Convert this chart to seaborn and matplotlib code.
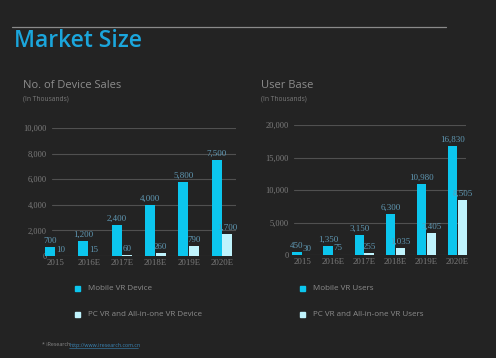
import matplotlib
matplotlib.use("Agg")
import matplotlib.pyplot as plt
import seaborn as sns
import pandas as pd

years = ["2015", "2016E", "2017E", "2018E", "2019E", "2020E"]
device_mobile = [700, 1200, 2400, 4000, 5800, 7500]
device_pc = [10, 15, 60, 260, 790, 1700]
users_mobile = [450, 1350, 3150, 6300, 10980, 16830]
users_pc = [30, 75, 255, 1035, 3405, 8505]
device_ticks = [0, 2000, 4000, 6000, 8000, 10000]
user_ticks = [0, 5000, 10000, 15000, 20000]

BG = "#232323"
BLUE = "#0cc6ee"
LIGHT = "#bff3fc"
GRID = "#505050"
TICK = "#7c7c7c"
LABEL = "#5f97b2"
TXT = "#8c8c8c"

sns.set_theme(style="dark")
plt.rcParams["font.family"] = ["Open Sans", "DejaVu Sans"]

fig = plt.figure(figsize=(4.96, 3.58), dpi=100, facecolor=BG)

def px(x, y):
    return x / 496, 1 - y / 358

# header
fig.add_artist(plt.Line2D([12 / 496, 446 / 496], [1 - 27 / 358] * 2, color="#8a8a8a", lw=0.9))
fig.text(*px(14, 47), "Market Size", color="#1ba6dc", fontsize=16.5, fontweight="semibold",
         va="baseline", ha="left")


def panel(rect, mobile, pc, ticks, title, tx, leg_labels, lx, xlim):
    df = pd.DataFrame({
        "year": years * 2,
        "value": mobile + pc,
        "series": [leg_labels[0]] * len(years) + [leg_labels[1]] * len(years),
    })
    ax = fig.add_axes(rect)
    ax.set_facecolor(BG)
    sns.barplot(data=df, x="year", y="value", hue="series", palette=[BLUE, LIGHT],
                width=0.64, gap=0.04, ax=ax, legend=False, saturation=1,
                linewidth=0, edgecolor="none")
    for p in ax.patches:
        p.set_clip_on(False)
    for c in ax.containers:
        for t in ax.bar_label(c, labels=[f"{v:,.0f}" for v in c.datavalues], padding=1.5,
                              color=LABEL, fontsize=6.5, family="Liberation Serif"):
            t.set_clip_on(False)
            t.set_annotation_clip(False)
    ax.set_xlim(*xlim)
    ax.set_ylim(0, ticks[-1])
    ax.set_yticks(ticks)
    ax.set_yticklabels([f"{t:,}" for t in ticks], family="Liberation Serif", color=TICK, fontsize=6)
    ax.set_xticks(range(len(years)))
    ax.set_xticklabels(years, family="Liberation Serif", color=TICK, fontsize=6.3)
    ax.tick_params(axis="y", length=0, pad=4)
    ax.tick_params(axis="x", length=0, pad=2)
    ax.set_xlabel("")
    ax.set_ylabel("")
    ax.grid(False)
    for t in ticks:
        ax.axhline(t, color=GRID, lw=0.8, zorder=0)
    for s in ax.spines.values():
        s.set_visible(False)
    fig.text(*px(tx, 88), title, color=TXT, fontsize=8, va="baseline", ha="left")
    fig.text(*px(tx, 100), "(In Thousands)", color="#7a7a7a", fontsize=4.8, va="baseline", ha="left")
    for i, (lab, col) in enumerate(zip(leg_labels, [BLUE, LIGHT])):
        y = 288 + 26 * i
        fig.patches.append(plt.Rectangle(px(lx, y + 2.5), 5 / 496, 5 / 358, color=col,
                                         transform=fig.transFigure, figure=fig))
        fig.text(*px(lx + 13, y), lab, color=TXT, fontsize=5.8, va="center", ha="left")
    return ax


panel([52 / 496, 1 - 256 / 358, 184 / 496, 128 / 358], device_mobile, device_pc, device_ticks,
      "No. of Device Sales", 23, ["Mobile VR Device", "PC VR and All-in-one VR Device"], 75,
      (-0.1, 5.42))
panel([294 / 496, 1 - 255 / 358, 172 / 496, 130 / 358], users_mobile, users_pc, user_ticks,
      "User Base", 261, ["Mobile VR Users", "PC VR and All-in-one VR Users"], 300,
      (-0.26, 5.27))

fig.text(*px(42, 345), "* iResearch", color="#8a8a8a", fontsize=3.8, va="center", ha="left")
fig.text(*px(69, 345), "http://www.iresearch.com.cn", color="#3a86b8", fontsize=3.8,
         va="center", ha="left")
fig.add_artist(plt.Line2D([69 / 496, 138 / 496], [1 - 347.5 / 358] * 2, color="#3a86b8", lw=0.4))

fig.savefig("out.png", dpi=100, facecolor=BG)
